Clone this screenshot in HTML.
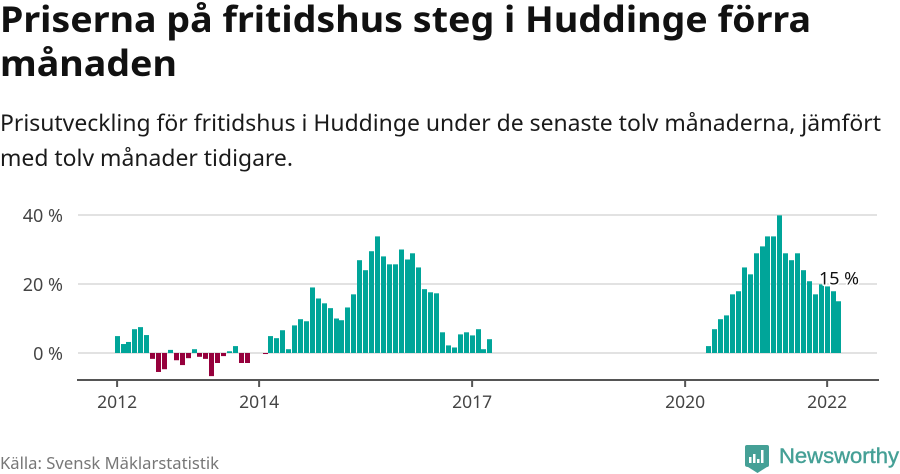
<!DOCTYPE html>
<html lang="sv">
<head>
<meta charset="utf-8">
<title>Priserna på fritidshus steg i Huddinge förra månaden</title>
<style>
html,body{margin:0;padding:0;background:#fff;width:900px;height:474px;overflow:hidden}
svg{display:block}
text{font-family:"Noto Sans","DejaVu Sans","Liberation Sans",sans-serif}
</style>
</head>
<body>
<svg id="chart" width="900" height="474" viewBox="0 0 900 474" xmlns="http://www.w3.org/2000/svg">
  <text x="0" y="32" font-size="36" font-weight="700" fill="#111" textLength="811" lengthAdjust="spacingAndGlyphs">Priserna på fritidshus steg i Huddinge förra</text>
  <text x="0" y="76" font-size="36" font-weight="700" fill="#111" textLength="177" lengthAdjust="spacingAndGlyphs">månaden</text>
  <text x="0" y="131" font-size="23" fill="#1a1a1a" textLength="881" lengthAdjust="spacingAndGlyphs">Prisutveckling för fritidshus i Huddinge under de senaste tolv månaderna, jämfört</text>
  <text x="0" y="166" font-size="23" fill="#1a1a1a" textLength="293" lengthAdjust="spacingAndGlyphs">med tolv månader tidigare.</text>
  <g id="grid"></g>
  <g id="bars"></g>
  <g id="axes"></g>
  <text id="endLabel" font-size="17.5" fill="#111" stroke="#fff" stroke-width="3" paint-order="stroke" stroke-linejoin="round" textLength="40" lengthAdjust="spacingAndGlyphs"></text>
  <text x="0" y="469" font-size="16" fill="#777" textLength="219" lengthAdjust="spacingAndGlyphs">Källa: Svensk Mäklarstatistik</text>
  <g>
    <path d="M747 445H767Q769 445 769 447V465Q769 467 767 467L757.5 473L748 467Q745 467 745 465V447Q745 445 747 445Z" fill="#45a096"/>
    <path d="M749 463V457H751.500V463ZM753 463V454H755.500V463ZM757 463V459H759.500V463ZM761 463V450H763.500V463Z" fill="#fff"/>
    <text x="779" y="463" font-size="21" fill="#45a096" stroke="#45a096" stroke-width="0.4" style="font-family:'Liberation Sans',sans-serif" textLength="120" lengthAdjust="spacingAndGlyphs">Newsworthy</text>
  </g>
</svg>
<script>
const categories = [
"2012-01","2012-02","2012-03","2012-04","2012-05","2012-06","2012-07","2012-08","2012-09","2012-10","2012-11","2012-12",
"2013-01","2013-02","2013-03","2013-04","2013-05","2013-06","2013-07","2013-08","2013-09","2013-10","2013-11","2013-12",
"2014-01","2014-02","2014-03","2014-04","2014-05","2014-06","2014-07","2014-08","2014-09","2014-10","2014-11","2014-12",
"2015-01","2015-02","2015-03","2015-04","2015-05","2015-06","2015-07","2015-08","2015-09","2015-10","2015-11","2015-12",
"2016-01","2016-02","2016-03","2016-04","2016-05","2016-06","2016-07","2016-08","2016-09","2016-10","2016-11","2016-12",
"2017-01","2017-02","2017-03","2017-04","2017-05","2017-06","2017-07","2017-08","2017-09","2017-10","2017-11","2017-12",
"2018-01","2018-02","2018-03","2018-04","2018-05","2018-06","2018-07","2018-08","2018-09","2018-10","2018-11","2018-12",
"2019-01","2019-02","2019-03","2019-04","2019-05","2019-06","2019-07","2019-08","2019-09","2019-10","2019-11","2019-12",
"2020-01","2020-02","2020-03","2020-04","2020-05","2020-06","2020-07","2020-08","2020-09","2020-10","2020-11","2020-12",
"2021-01","2021-02","2021-03","2021-04","2021-05","2021-06","2021-07","2021-08","2021-09","2021-10","2021-11","2021-12",
"2022-01","2022-02","2022-03"];
const priceChange = [
4.9,2.6,3.2,6.9,7.5,5.2,-1.7,-5.5,-4.7,0.9,-2.1,-3.5,
-1.5,1.1,-1.1,-1.7,-6.7,-2.9,-0.9,0.5,2.0,-2.9,-2.9,null,
null,-0.3,4.9,4.3,6.6,1.1,8.0,9.8,9.2,19.0,15.8,14.4,
13.0,10.0,9.5,13.2,17.0,26.9,24.0,29.5,33.8,28.0,25.7,25.7,
30.0,27.1,28.9,24.8,18.5,17.6,17.3,6.0,2.2,1.6,5.4,6.0,
5.1,6.9,1.1,4.0,null,null,null,null,null,null,null,null,
null,null,null,null,null,null,null,null,null,null,null,null,
null,null,null,null,null,null,null,null,null,null,null,null,
null,null,null,null,2.0,6.9,9.8,10.9,17.0,17.9,24.8,22.8,
28.9,30.9,33.8,33.8,39.9,28.9,26.9,28.9,24.0,20.8,17.0,19.9,
19.3,17.9,15.0];
const yTicks = [0,20,40];
const yTickLabels = ["0 %","20 %","40 %"];
const xTicks = ["2012-01","2014-01","2017-01","2020-01","2022-01"];
const xTickLabels = ["2012","2014","2017","2020","2022"];

const NS = "http://www.w3.org/2000/svg";
function xScale(cat){ return 117.1 + 5.917 * categories.indexOf(cat); }
function yScale(v){ return 353 - 3.45 * v; }
function make(tag, attrs, parent){
  const el = document.createElementNS(NS, tag);
  for (const k in attrs) el.setAttribute(k, attrs[k]);
  parent.appendChild(el);
  return el;
}
const grid = document.getElementById("grid");
const barsG = document.getElementById("bars");
const axes = document.getElementById("axes");

yTicks.forEach(function(t, i){
  const line = make("line", {x1:78, x2:877, y1:yScale(t), y2:yScale(t), stroke:"#e2e2e2", "stroke-width":2}, grid);
  
  
  const label = make("text", {x:63, y:yScale(t)+7, "text-anchor":"end", "font-size":18, fill:"#444"}, axes);
  
  
  label.textContent = yTickLabels[i];
});

categories.forEach(function(cat, i){
  const v = priceChange[i];
  if (v === null || v === undefined) return;
  const top = yScale(Math.max(v, 0));
  const bottom = yScale(Math.min(v, 0));
  const bar = make("rect", {x:Math.round(xScale(cat) - 2.5), y:top, width:5, height:bottom - top, fill: v >= 0 ? "#00a599" : "#96003c"}, barsG);
  
  
});

const axisLine = make("line", {x1:77, x2:879, y1:380, y2:380, stroke:"#555", "stroke-width":2}, axes);


xTicks.forEach(function(cat, i){
  const x = xScale(cat);
  const tick = make("line", {x1:x, x2:x, y1:380, y2:387, stroke:"#555", "stroke-width":2}, axes);
  
  
  const label = make("text", {x:x, y:408, "text-anchor":"middle", "font-size":17.5, fill:"#444"}, axes);
  
  
  label.textContent = xTickLabels[i];
});

const lastIndex = priceChange.length - 1;
const endLabel = document.getElementById("endLabel");
endLabel.setAttribute("x", xScale(categories[lastIndex]) - 20);
endLabel.setAttribute("y", yScale(priceChange[lastIndex]) - 17);
endLabel.textContent = Math.round(priceChange[lastIndex]) + " %";
</script>
</body>
</html>
